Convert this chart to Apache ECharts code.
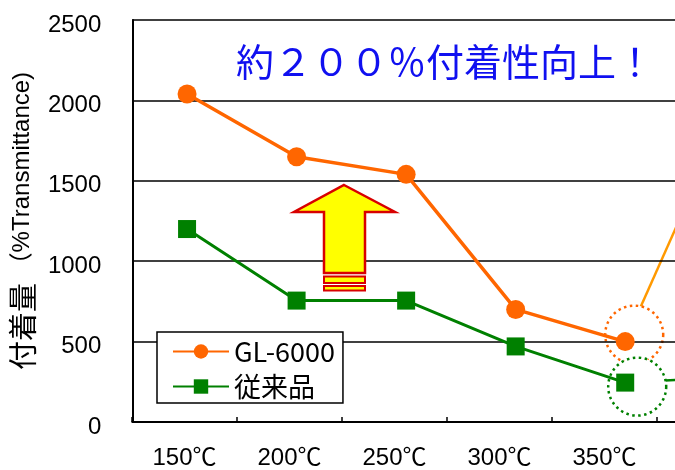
<!DOCTYPE html>
<html>
<head>
<meta charset="utf-8">
<script src="https://cdn.jsdelivr.net/npm/echarts@6/dist/echarts.min.js"></script>
<style>
html,body{margin:0;padding:0;background:#fff;}
#chart{width:675px;height:470px;}
</style>
</head>
<body>
<div id="chart"></div>
<script>
// ---- data ----
const categories = ['150℃', '200℃', '250℃', '300℃', '350℃', '400℃'];
const gl6000 = [2040, 1650, 1540, 700, 500, 2030];
const conventional = [1200, 755, 755, 470, 245, 280];
const seriesNames = ['GL-6000', '従来品'];
const yMin = 0, yMax = 2500, yStep = 500;
const headline = '約２００％付着性向上！';
const yName = '付着量';
const yUnit = '（%Transmittance)';

// ---- chart ----
const chart = echarts.init(document.getElementById('chart'), null, {renderer: 'canvas'});
const lastIdx = 4; // last measured point visible in the cropped plot (350℃)
const visibleCats = categories.slice(0, lastIdx + 1);
const toPts = arr => arr.map((v, i) => [i, v]);
const mainGl = toPts(gl6000).slice(0, lastIdx + 1);
const mainConv = toPts(conventional).slice(0, lastIdx + 1);
const segGl = toPts(gl6000).slice(lastIdx);
const segConv = toPts(conventional).slice(lastIdx);

const ORANGE = '#FF6600', GREEN = '#008000';
// plot area is cropped at the right edge: category slots of the data axis
const dataLeft = 130, slot = 110;
const xMaxIdx = (675 - dataLeft) / slot - 0.5;

const option = {
  backgroundColor: '#fff',
  animation: false,
  title: {
    text: headline,
    left: 231, top: 38,
    textStyle: {fontSize: 38, fontWeight: 'normal', color: '#1010F0', fontFamily: 'Noto Sans CJK JP'}
  },
  legend: {
    data: seriesNames,
    orient: 'vertical',
    left: 157, top: 332,
    padding: [6, 8, 3, 15],
    itemWidth: 56, itemHeight: 18, itemGap: 8,
    backgroundColor: '#fff',
    borderColor: '#000', borderWidth: 1.5, borderRadius: 0,
    textStyle: {fontSize: 27, color: '#000', fontFamily: 'Noto Sans CJK JP'},
    z: 10
  },
  grid: [
    {left: dataLeft, top: 20, right: 0, bottom: 48, containLabel: false},
    {left: 132, top: 20, right: 18, bottom: 48, containLabel: false}
  ],
  xAxis: [
    {
      type: 'value', gridIndex: 0, min: -0.5, max: xMaxIdx,
      axisLine: {onZero: false, lineStyle: {color: '#000', width: 2}},
      axisTick: {show: false}, axisLabel: {show: false}, splitLine: {show: false}
    },
    {
      type: 'category', gridIndex: 1, data: visibleCats, boundaryGap: true,
      axisLine: {show: false},
      axisTick: {show: true, inside: true, length: 5, lineStyle: {color: '#000', width: 1.5}},
      axisLabel: {fontSize: 24, color: '#000', margin: 24, fontFamily: 'Liberation Sans, Noto Sans CJK JP'},
      splitLine: {show: false}
    }
  ],
  yAxis: [
    {
      type: 'value', gridIndex: 0, min: yMin, max: yMax, interval: yStep, z: 3,
      axisLine: {show: true, onZero: false, lineStyle: {color: '#000', width: 2}},
      axisTick: {show: false},
      axisLabel: {
        fontSize: 24, color: '#000', margin: 31,
        verticalAlign: 'top', lineHeight: 10,
        fontFamily: 'Liberation Sans, Arial, sans-serif',
        formatter: v => String(v)
      },
      splitLine: {show: true, lineStyle: {color: '#000', width: 1.5}},
      name: '{a|' + yName + '} {b|' + yUnit + '}',
      nameLocation: 'middle', nameRotate: 90, nameGap: 84,
      nameTextStyle: {
        color: '#000', fontSize: 24,
        rich: {
          a: {fontSize: 29, fontFamily: 'Noto Sans CJK JP', color: '#000'},
          b: {fontSize: 24, fontFamily: 'Liberation Sans, Noto Sans CJK JP', color: '#000'}
        }
      }
    },
    {type: 'value', gridIndex: 1, min: yMin, max: yMax, interval: yStep, show: false}
  ],
  series: [
    {
      name: 'seg-gl', type: 'line', data: segGl, xAxisIndex: 0, yAxisIndex: 0,
      symbol: 'none', z: 1, silent: true, clip: true,
      lineStyle: {color: '#FF9900', width: 2.5}
    },
    {
      name: 'seg-conv', type: 'line', data: segConv, xAxisIndex: 0, yAxisIndex: 0,
      symbol: 'none', z: 1, silent: true, clip: true,
      lineStyle: {color: GREEN, width: 2.5}
    },
    {
      name: 'ring-gl', type: 'scatter', xAxisIndex: 0, yAxisIndex: 0, z: 2, silent: true,
      data: [[lastIdx, gl6000[lastIdx]]],
      symbol: 'circle', symbolSize: 58, symbolOffset: [9, -7],
      itemStyle: {color: '#fff', opacity: 1, borderColor: ORANGE, borderWidth: 2.5, borderType: [2.5, 3.5]}
    },
    {
      name: 'ring-conv', type: 'scatter', xAxisIndex: 0, yAxisIndex: 0, z: 2, silent: true,
      data: [[lastIdx, conventional[lastIdx]]],
      symbol: 'circle', symbolSize: 58, symbolOffset: [12, 4],
      itemStyle: {color: '#fff', opacity: 1, borderColor: GREEN, borderWidth: 2.5, borderType: [2.5, 3.5]}
    },
    {
      name: seriesNames[0], type: 'line', data: mainGl, xAxisIndex: 0, yAxisIndex: 0, z: 4,
      symbol: 'circle', symbolSize: 19,
      itemStyle: {color: ORANGE},
      lineStyle: {color: ORANGE, width: 3.5}
    },
    {
      name: seriesNames[1], type: 'line', data: mainConv, xAxisIndex: 0, yAxisIndex: 0, z: 4,
      symbol: 'rect', symbolSize: 18,
      itemStyle: {color: GREEN},
      lineStyle: {color: GREEN, width: 3}
    }
  ],
  graphic: [
    {
      type: 'polygon', z: 20,
      shape: {points: [[344, 185], [395, 212], [365, 212], [365, 273], [324, 273], [324, 212], [294, 212]]},
      style: {fill: '#FFFF00', stroke: '#D80000', lineWidth: 2.5}
    },
    {
      type: 'rect', z: 20,
      shape: {x: 324, y: 276.5, width: 41, height: 6.5},
      style: {fill: '#FFFF00', stroke: '#D80000', lineWidth: 2}
    },
    {
      type: 'rect', z: 20,
      shape: {x: 324, y: 286, width: 41, height: 4.5},
      style: {fill: '#FFFF00', stroke: '#D80000', lineWidth: 2}
    }
  ]
};
chart.setOption(option);
</script>
</body>
</html>
